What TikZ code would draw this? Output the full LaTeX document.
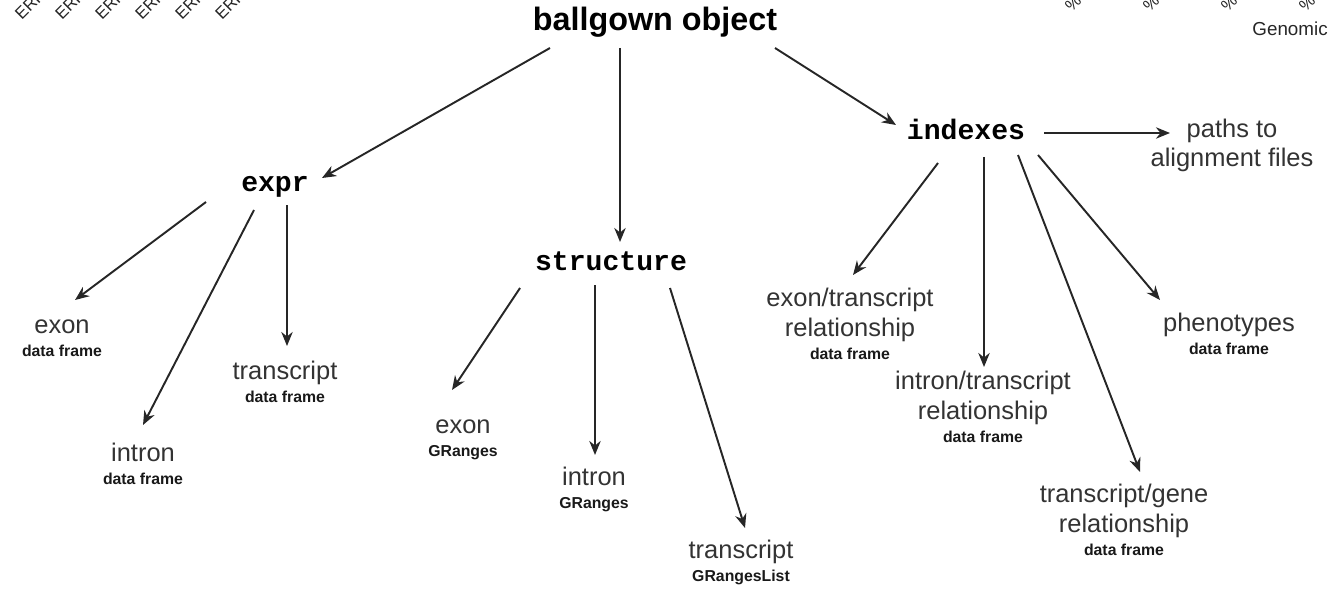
\documentclass[tikz,border=0pt]{standalone}
\usepackage{fontspec}
\setmainfont{Liberation Sans}
\setmonofont{Liberation Mono}
\usetikzlibrary{arrows.meta}

\tikzset{
  every node/.style={inner sep=0pt, anchor=base},
  top/.style={font=\fontsize{18.4}{22}\selectfont\bfseries},
  slot/.style={font=\fontsize{16}{19}\selectfont\ttfamily\bfseries},
  leaf/.style={align=center, text=black!80, font=\fontsize{14.5}{17}\selectfont},
  arr/.style={-{Stealth[length=8pt,width=6.5pt]}, line width=1.1pt, black!85},
  corner/.style={font=\fontsize{9.5}{11}\selectfont, text=black!85, rotate=45, anchor=south west},
}
\newcommand{\kind}[1]{\\[-4pt]{\fontsize{9}{10}\selectfont\bfseries\color{black!90}#1}}

\begin{document}
\begin{tikzpicture}[x=0.02cm, y=-0.02cm]
  \useasboundingbox (0,0) rectangle (1334,591);
  \begin{scope}
    \clip (0,0) rectangle (1334,591);
    \foreach \i in {0,...,5}
      \node[corner] (run\i) at (22+40*\i,21) {ERR};
    \foreach \i in {0,...,3}
      \node[corner] (pct\i) at (1072+78*\i,13) {\%};
  \end{scope}
  \node[font=\fontsize{10.7}{13}\selectfont, text=black!85, anchor=base east] (genomic) at (1328,36) {Genomic};

  \node[top] (bg) at (655,31) {ballgown object};
  \node[slot] (expr) at (275,192) {expr};
  \node[slot] (struct) at (611,270) {structure};
  \node[slot] (idx) at (966,140) {indexes};
  \node[leaf] (paths) at (1232,167) {paths to\\alignment files};

  \node[leaf] (eexon) at (62,356) {exon\kind{data frame}};
  \node[leaf] (etx) at (285,402) {transcript\kind{data frame}};
  \node[leaf] (eintron) at (143,484) {intron\kind{data frame}};

  \node[leaf] (sexon) at (463,456) {exon\kind{GRanges}};
  \node[leaf] (sintron) at (594,508) {intron\kind{GRanges}};
  \node[leaf] (stx) at (741,581) {transcript\kind{GRangesList}};

  \node[leaf] (extx) at (850,359) {exon/transcript\\relationship\kind{data frame}};
  \node[leaf] (intx) at (983,442) {intron/transcript\\relationship\kind{data frame}};
  \node[leaf] (txgene) at (1124,555) {transcript/gene\\relationship\kind{data frame}};
  \node[leaf] (pheno) at (1229,354) {phenotypes\kind{data frame}};

  \draw[arr] ([shift={(-105,17)}]bg.base) -- ([shift={(47,-14)}]expr.base);
  \draw[arr] ([shift={(-35,17)}]bg.base) -- ([shift={(9,-28)}]struct.base);
  \draw[arr] ([shift={(120,17)}]bg.base) -- ([shift={(-70,-15)}]idx.base);
  \draw[arr] ([shift={(78,-7)}]idx.base) -- ([shift={(-62,-34)}]paths.base);

  \draw[arr] ([shift={(-69,10)}]expr.base) -- ([shift={(13,-56)}]eexon.base);
  \draw[arr] ([shift={(-21,18)}]expr.base) -- ([shift={(0,-59)}]eintron.base);
  \draw[arr] ([shift={(12,13)}]expr.base) -- ([shift={(2,-56)}]etx.base);

  \draw[arr] ([shift={(-91,18)}]struct.base) -- ([shift={(-11,-66)}]sexon.base);
  \draw[arr] ([shift={(-16,15)}]struct.base) -- ([shift={(1,-53)}]sintron.base);
  \draw[arr] ([shift={(59,18)}]struct.base) -- ([shift={(4,-53)}]stx.base);

  \draw[arr] ([shift={(-28,23)}]idx.base) -- ([shift={(3,-84)}]extx.base);
  \draw[arr] ([shift={(18,17)}]idx.base) -- ([shift={(1,-75)}]intx.base);
  \draw[arr] ([shift={(52,15)}]idx.base) -- ([shift={(16,-83)}]txgene.base);
  \draw[arr] ([shift={(72,15)}]idx.base) -- ([shift={(-69,-54)}]pheno.base);
\end{tikzpicture}
\end{document}
